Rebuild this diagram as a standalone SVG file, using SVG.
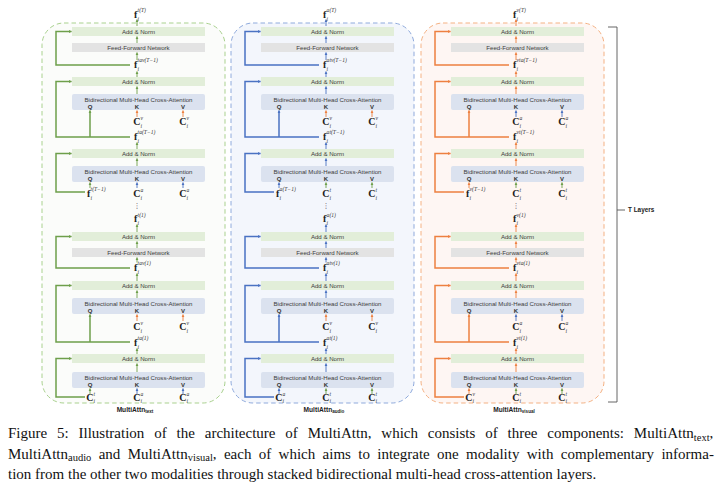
<svg xmlns="http://www.w3.org/2000/svg" width="728" height="489" viewBox="0 0 728 489">
<style>
.bg{fill:#ffffff}
.panel{stroke-width:1;stroke-dasharray:4.5 3}
.pg{fill:#fbfcfa;stroke:#a9d18e}
.pb{fill:#f3f6fc;stroke:#8faadc}
.po{fill:#fef6f3;stroke:#f4b183}
.an{fill:#e2eed9}
.ff{fill:#e3e3e3}
.ca{fill:#dbe2ef}
.bt{font-family:"Liberation Sans",Arial,sans-serif;font-size:6.1px;fill:#3c3c3c;text-anchor:middle}
.qkv{font-family:"Liberation Sans",Arial,sans-serif;font-size:6px;font-weight:bold;fill:#333;text-anchor:middle}
.fb{font-family:"Liberation Serif","Times New Roman",serif;font-size:10px;font-weight:bold;fill:#222}
.sc{font-family:"Liberation Serif","Times New Roman",serif;font-size:5.6px;font-style:italic;fill:#333}
.dots{font-family:"DejaVu Sans",sans-serif;font-size:7px;fill:#333;text-anchor:middle}
.m{fill:none;stroke-width:0.9}
.s{fill:none;stroke-width:1.5}
.cg{stroke:#6e9f4b}
.cb{stroke:#4a72c2}
.co{stroke:#ed8040}
.mg{marker-end:url(#ag)}
.mb{marker-end:url(#ab)}
.mo{marker-end:url(#ao)}
.lab{font-family:"Liberation Sans",Arial,sans-serif;font-size:6.6px;font-weight:bold;fill:#222;text-anchor:middle}
.cap{font-family:"Liberation Serif","Times New Roman",serif;font-size:15px;fill:#111}
</style>
<defs>
<marker id="ag" viewBox="0 0 6 6" refX="5.5" refY="3" markerWidth="3.2" markerHeight="3.2" orient="auto" markerUnits="userSpaceOnUse"><path d="M0,0L6,3L0,6z" fill="#6e9f4b"/></marker>
<marker id="ab" viewBox="0 0 6 6" refX="5.5" refY="3" markerWidth="3.2" markerHeight="3.2" orient="auto" markerUnits="userSpaceOnUse"><path d="M0,0L6,3L0,6z" fill="#4a72c2"/></marker>
<marker id="ao" viewBox="0 0 6 6" refX="5.5" refY="3" markerWidth="3.2" markerHeight="3.2" orient="auto" markerUnits="userSpaceOnUse"><path d="M0,0L6,3L0,6z" fill="#ed8040"/></marker>
</defs>
<rect class="bg" x="0" y="0" width="728" height="489"/>

<g id="panels">
<rect id="panel-text" class="panel pg" x="42" y="23" width="183" height="380" rx="22"/>
<rect id="panel-audio" class="panel pb" x="231" y="23" width="183" height="380" rx="22"/>
<rect id="panel-visual" class="panel po" x="421" y="23" width="183" height="380" rx="22"/>
</g>

<g id="connectors">
<g id="conn-text" transform="translate(42,0)">
<g class="m cg mg"><path d="M95,26V19.5"/><path d="M95,43V36.5"/><path d="M95,60V52.5"/><path d="M95,77V71.5"/><path d="M95,94V86.5"/><path d="M95,149V142.5"/><path d="M95,166V158.5"/><path d="M95,232V224.5"/><path d="M95,248V241.5"/><path d="M95,262.5V257.5"/><path d="M95,281V273.5"/><path d="M95,298V290.5"/><path d="M95,354V348.5"/><path d="M95,372V363.5"/><path d="M48,188V182.5"/><path d="M48,394V388.5"/></g>
<g class="m co mo"><path d="M95,117V110.5"/><path d="M141,117V110.5"/><path d="M95,321V314.5"/><path d="M141,321V314.5"/></g>
<g class="m cb mb"><path d="M95,188V182.5"/><path d="M141,188V182.5"/><path d="M95,394V388.5"/><path d="M141,394V388.5"/></g>
<g class="s cg mg"><path d="M88,65H14V31.5H29.5"/><path d="M88,137H14V81.5H29.5"/><path d="M48,137V110.5"/><path d="M43,192H14V153.5H29.5"/><path d="M88,268H14V236.5H29.5"/><path d="M88,342H14V285.5H29.5"/><path d="M48,342V314.5"/><path d="M43,397H14V358.5H29.5"/></g>
</g>
<g id="conn-audio" transform="translate(231,0)">
<g class="m cb mb"><path d="M95,26V19.5"/><path d="M95,43V36.5"/><path d="M95,60V52.5"/><path d="M95,77V71.5"/><path d="M95,94V86.5"/><path d="M95,149V142.5"/><path d="M95,166V158.5"/><path d="M95,232V224.5"/><path d="M95,248V241.5"/><path d="M95,262.5V257.5"/><path d="M95,281V273.5"/><path d="M95,298V290.5"/><path d="M95,354V348.5"/><path d="M95,372V363.5"/><path d="M48,188V182.5"/><path d="M48,394V388.5"/></g>
<g class="m co mo"><path d="M95,117V110.5"/><path d="M141,117V110.5"/><path d="M95,321V314.5"/><path d="M141,321V314.5"/></g>
<g class="m cg mg"><path d="M95,188V182.5"/><path d="M141,188V182.5"/><path d="M95,394V388.5"/><path d="M141,394V388.5"/></g>
<g class="s cb mb"><path d="M88,65H14V31.5H29.5"/><path d="M88,137H14V81.5H29.5"/><path d="M48,137V110.5"/><path d="M43,192H14V153.5H29.5"/><path d="M88,268H14V236.5H29.5"/><path d="M88,342H14V285.5H29.5"/><path d="M48,342V314.5"/><path d="M43,397H14V358.5H29.5"/></g>
</g>
<g id="conn-visual" transform="translate(421,0)">
<g class="m co mo"><path d="M95,26V19.5"/><path d="M95,43V36.5"/><path d="M95,60V52.5"/><path d="M95,77V71.5"/><path d="M95,94V86.5"/><path d="M95,149V142.5"/><path d="M95,166V158.5"/><path d="M95,232V224.5"/><path d="M95,248V241.5"/><path d="M95,262.5V257.5"/><path d="M95,281V273.5"/><path d="M95,298V290.5"/><path d="M95,354V348.5"/><path d="M95,372V363.5"/><path d="M48,188V182.5"/><path d="M48,394V388.5"/></g>
<g class="m cb mb"><path d="M95,117V110.5"/><path d="M141,117V110.5"/><path d="M95,321V314.5"/><path d="M141,321V314.5"/></g>
<g class="m cg mg"><path d="M95,188V182.5"/><path d="M141,188V182.5"/><path d="M95,394V388.5"/><path d="M141,394V388.5"/></g>
<g class="s co mo"><path d="M88,65H14V31.5H29.5"/><path d="M88,137H14V81.5H29.5"/><path d="M48,137V110.5"/><path d="M43,192H14V153.5H29.5"/><path d="M88,268H14V236.5H29.5"/><path d="M88,342H14V285.5H29.5"/><path d="M48,342V314.5"/><path d="M43,397H14V358.5H29.5"/></g>
</g>
<g id="t-layers-bracket" fill="none" stroke="#555" stroke-width="0.9"><path d="M608,27H617V402H608"/><path d="M617,210H625"/></g>
</g>

<!-- TEXT column -->
<g id="col-text" transform="translate(42,0)">
<g id="t-an1"><rect class="an" x="30" y="27" width="133" height="9"/><text class="bt" x="96.5" y="33.6">Add &amp; Norm</text></g>
<g id="t-ffn1"><rect class="ff" x="30" y="43" width="133" height="9"/><text class="bt" x="96.5" y="49.6">Feed-Forward Network</text></g>
<g id="t-an2"><rect class="an" x="30" y="77" width="133" height="9"/><text class="bt" x="96.5" y="83.6">Add &amp; Norm</text></g>
<g id="t-ca1"><rect class="ca" x="30" y="94" width="133" height="16" rx="2"/><text class="bt" x="96.5" y="101.5">Bidirectional Multi-Head Cross-Attention</text><text class="qkv" x="48" y="108.6">Q</text><text class="qkv" x="95" y="108.6">K</text><text class="qkv" x="141" y="108.6">V</text></g>
<g id="t-an3"><rect class="an" x="30" y="149" width="133" height="9"/><text class="bt" x="96.5" y="155.6">Add &amp; Norm</text></g>
<g id="t-ca2"><rect class="ca" x="30" y="166" width="133" height="16" rx="2"/><text class="bt" x="96.5" y="173.5">Bidirectional Multi-Head Cross-Attention</text><text class="qkv" x="48" y="180.6">Q</text><text class="qkv" x="95" y="180.6">K</text><text class="qkv" x="141" y="180.6">V</text></g>
<g id="t-an4"><rect class="an" x="30" y="232" width="133" height="9"/><text class="bt" x="96.5" y="238.6">Add &amp; Norm</text></g>
<g id="t-ffn2"><rect class="ff" x="30" y="248" width="133" height="9"/><text class="bt" x="96.5" y="254.6">Feed-Forward Network</text></g>
<g id="t-an5"><rect class="an" x="30" y="281" width="133" height="9"/><text class="bt" x="96.5" y="287.6">Add &amp; Norm</text></g>
<g id="t-ca3"><rect class="ca" x="30" y="298" width="133" height="16" rx="2"/><text class="bt" x="96.5" y="305.5">Bidirectional Multi-Head Cross-Attention</text><text class="qkv" x="48" y="312.6">Q</text><text class="qkv" x="95" y="312.6">K</text><text class="qkv" x="141" y="312.6">V</text></g>
<g id="t-an6"><rect class="an" x="30" y="354" width="133" height="9"/><text class="bt" x="96.5" y="360.6">Add &amp; Norm</text></g>
<g id="t-ca4"><rect class="ca" x="30" y="372" width="133" height="16" rx="2"/><text class="bt" x="96.5" y="379.5">Bidirectional Multi-Head Cross-Attention</text><text class="qkv" x="48" y="386.6">Q</text><text class="qkv" x="95" y="386.6">K</text><text class="qkv" x="141" y="386.6">V</text></g>
<g id="t-fT"><text class="fb" x="92" y="18">f</text><text class="sc" x="95.6" y="12">t(T)</text><text class="sc" x="95.6" y="20.5">i</text></g>
<g id="t-ftavT1"><text class="fb" x="92" y="68">f</text><text class="sc" x="95.6" y="62">tav(T−1)</text><text class="sc" x="95.6" y="70.5">i</text></g>
<g id="t-cK1"><text class="fb" x="91.3" y="125">C</text><text class="sc" x="98.4" y="119.5">v</text><text class="sc" x="98.4" y="127.5">i</text></g>
<g id="t-cV1"><text class="fb" x="137.3" y="125">C</text><text class="sc" x="144.4" y="119.5">v</text><text class="sc" x="144.4" y="127.5">i</text></g>
<g id="t-ftaT1"><text class="fb" x="92" y="140">f</text><text class="sc" x="95.6" y="134">ta(T−1)</text><text class="sc" x="95.6" y="142.5">i</text></g>
<g id="t-ftT1"><text class="fb" x="45" y="197">f</text><text class="sc" x="48.6" y="191">t(T−1)</text><text class="sc" x="48.6" y="199.5">i</text></g>
<g id="t-cK2"><text class="fb" x="91.3" y="197">C</text><text class="sc" x="98.4" y="191.5">a</text><text class="sc" x="98.4" y="199.5">i</text></g>
<g id="t-cV2"><text class="fb" x="137.3" y="197">C</text><text class="sc" x="144.4" y="191.5">a</text><text class="sc" x="144.4" y="199.5">i</text></g>
<text class="dots" x="95" y="208">⋮</text>
<g id="t-f1"><text class="fb" x="92" y="222">f</text><text class="sc" x="95.6" y="216.5">t(1)</text><text class="sc" x="95.6" y="224.5">i</text></g>
<g id="t-ftav1"><text class="fb" x="92" y="271">f</text><text class="sc" x="95.6" y="265">tav(1)</text><text class="sc" x="95.6" y="273.5">i</text></g>
<g id="t-cK3"><text class="fb" x="91.3" y="330">C</text><text class="sc" x="98.4" y="324.5">v</text><text class="sc" x="98.4" y="332.5">i</text></g>
<g id="t-cV3"><text class="fb" x="137.3" y="330">C</text><text class="sc" x="144.4" y="324.5">v</text><text class="sc" x="144.4" y="332.5">i</text></g>
<g id="t-fta1"><text class="fb" x="92" y="346">f</text><text class="sc" x="95.6" y="340">ta(1)</text><text class="sc" x="95.6" y="348.5">i</text></g>
<g id="t-cQ4"><text class="fb" x="44.3" y="401">C</text><text class="sc" x="51.4" y="395.5">t</text><text class="sc" x="51.4" y="403">i</text></g>
<g id="t-cK4"><text class="fb" x="91.3" y="401">C</text><text class="sc" x="98.4" y="395.5">a</text><text class="sc" x="98.4" y="403">i</text></g>
<g id="t-cV4"><text class="fb" x="137.3" y="401">C</text><text class="sc" x="144.4" y="395.5">a</text><text class="sc" x="144.4" y="403">i</text></g>
<text id="t-label" class="lab" x="93" y="411.5">MultiAttn<tspan font-size="4.6" dy="1.6">text</tspan></text>
</g>

<!-- AUDIO column -->
<g id="col-audio" transform="translate(231,0)">
<g id="a-an1"><rect class="an" x="30" y="27" width="133" height="9"/><text class="bt" x="96.5" y="33.6">Add &amp; Norm</text></g>
<g id="a-ffn1"><rect class="ff" x="30" y="43" width="133" height="9"/><text class="bt" x="96.5" y="49.6">Feed-Forward Network</text></g>
<g id="a-an2"><rect class="an" x="30" y="77" width="133" height="9"/><text class="bt" x="96.5" y="83.6">Add &amp; Norm</text></g>
<g id="a-ca1"><rect class="ca" x="30" y="94" width="133" height="16" rx="2"/><text class="bt" x="96.5" y="101.5">Bidirectional Multi-Head Cross-Attention</text><text class="qkv" x="48" y="108.6">Q</text><text class="qkv" x="95" y="108.6">K</text><text class="qkv" x="141" y="108.6">V</text></g>
<g id="a-an3"><rect class="an" x="30" y="149" width="133" height="9"/><text class="bt" x="96.5" y="155.6">Add &amp; Norm</text></g>
<g id="a-ca2"><rect class="ca" x="30" y="166" width="133" height="16" rx="2"/><text class="bt" x="96.5" y="173.5">Bidirectional Multi-Head Cross-Attention</text><text class="qkv" x="48" y="180.6">Q</text><text class="qkv" x="95" y="180.6">K</text><text class="qkv" x="141" y="180.6">V</text></g>
<g id="a-an4"><rect class="an" x="30" y="232" width="133" height="9"/><text class="bt" x="96.5" y="238.6">Add &amp; Norm</text></g>
<g id="a-ffn2"><rect class="ff" x="30" y="248" width="133" height="9"/><text class="bt" x="96.5" y="254.6">Feed-Forward Network</text></g>
<g id="a-an5"><rect class="an" x="30" y="281" width="133" height="9"/><text class="bt" x="96.5" y="287.6">Add &amp; Norm</text></g>
<g id="a-ca3"><rect class="ca" x="30" y="298" width="133" height="16" rx="2"/><text class="bt" x="96.5" y="305.5">Bidirectional Multi-Head Cross-Attention</text><text class="qkv" x="48" y="312.6">Q</text><text class="qkv" x="95" y="312.6">K</text><text class="qkv" x="141" y="312.6">V</text></g>
<g id="a-an6"><rect class="an" x="30" y="354" width="133" height="9"/><text class="bt" x="96.5" y="360.6">Add &amp; Norm</text></g>
<g id="a-ca4"><rect class="ca" x="30" y="372" width="133" height="16" rx="2"/><text class="bt" x="96.5" y="379.5">Bidirectional Multi-Head Cross-Attention</text><text class="qkv" x="48" y="386.6">Q</text><text class="qkv" x="95" y="386.6">K</text><text class="qkv" x="141" y="386.6">V</text></g>
<g id="a-fT"><text class="fb" x="92" y="18">f</text><text class="sc" x="95.6" y="12">a(T)</text><text class="sc" x="95.6" y="20.5">i</text></g>
<g id="a-fatvT1"><text class="fb" x="92" y="68">f</text><text class="sc" x="95.6" y="62">atv(T−1)</text><text class="sc" x="95.6" y="70.5">i</text></g>
<g id="a-cK1"><text class="fb" x="91.3" y="125">C</text><text class="sc" x="98.4" y="119.5">v</text><text class="sc" x="98.4" y="127.5">i</text></g>
<g id="a-cV1"><text class="fb" x="137.3" y="125">C</text><text class="sc" x="144.4" y="119.5">v</text><text class="sc" x="144.4" y="127.5">i</text></g>
<g id="a-fatT1"><text class="fb" x="92" y="140">f</text><text class="sc" x="95.6" y="134">at(T−1)</text><text class="sc" x="95.6" y="142.5">i</text></g>
<g id="a-faT1"><text class="fb" x="45" y="197">f</text><text class="sc" x="48.6" y="191">a(T−1)</text><text class="sc" x="48.6" y="199.5">i</text></g>
<g id="a-cK2"><text class="fb" x="91.3" y="197">C</text><text class="sc" x="98.4" y="191.5">t</text><text class="sc" x="98.4" y="199.5">i</text></g>
<g id="a-cV2"><text class="fb" x="137.3" y="197">C</text><text class="sc" x="144.4" y="191.5">t</text><text class="sc" x="144.4" y="199.5">i</text></g>
<text class="dots" x="95" y="208">⋮</text>
<g id="a-f1"><text class="fb" x="92" y="222">f</text><text class="sc" x="95.6" y="216.5">a(1)</text><text class="sc" x="95.6" y="224.5">i</text></g>
<g id="a-fatv1"><text class="fb" x="92" y="271">f</text><text class="sc" x="95.6" y="265">atv(1)</text><text class="sc" x="95.6" y="273.5">i</text></g>
<g id="a-cK3"><text class="fb" x="91.3" y="330">C</text><text class="sc" x="98.4" y="324.5">v</text><text class="sc" x="98.4" y="332.5">i</text></g>
<g id="a-cV3"><text class="fb" x="137.3" y="330">C</text><text class="sc" x="144.4" y="324.5">v</text><text class="sc" x="144.4" y="332.5">i</text></g>
<g id="a-fat1"><text class="fb" x="92" y="346">f</text><text class="sc" x="95.6" y="340">at(1)</text><text class="sc" x="95.6" y="348.5">i</text></g>
<g id="a-cQ4"><text class="fb" x="44.3" y="401">C</text><text class="sc" x="51.4" y="395.5">a</text><text class="sc" x="51.4" y="403">i</text></g>
<g id="a-cK4"><text class="fb" x="91.3" y="401">C</text><text class="sc" x="98.4" y="395.5">t</text><text class="sc" x="98.4" y="403">i</text></g>
<g id="a-cV4"><text class="fb" x="137.3" y="401">C</text><text class="sc" x="144.4" y="395.5">t</text><text class="sc" x="144.4" y="403">i</text></g>
<text id="a-label" class="lab" x="93" y="411.5">MultiAttn<tspan font-size="4.6" dy="1.6">audio</tspan></text>
</g>

<!-- VISUAL column -->
<g id="col-visual" transform="translate(421,0)">
<g id="v-an1"><rect class="an" x="30" y="27" width="133" height="9"/><text class="bt" x="96.5" y="33.6">Add &amp; Norm</text></g>
<g id="v-ffn1"><rect class="ff" x="30" y="43" width="133" height="9"/><text class="bt" x="96.5" y="49.6">Feed-Forward Network</text></g>
<g id="v-an2"><rect class="an" x="30" y="77" width="133" height="9"/><text class="bt" x="96.5" y="83.6">Add &amp; Norm</text></g>
<g id="v-ca1"><rect class="ca" x="30" y="94" width="133" height="16" rx="2"/><text class="bt" x="96.5" y="101.5">Bidirectional Multi-Head Cross-Attention</text><text class="qkv" x="48" y="108.6">Q</text><text class="qkv" x="95" y="108.6">K</text><text class="qkv" x="141" y="108.6">V</text></g>
<g id="v-an3"><rect class="an" x="30" y="149" width="133" height="9"/><text class="bt" x="96.5" y="155.6">Add &amp; Norm</text></g>
<g id="v-ca2"><rect class="ca" x="30" y="166" width="133" height="16" rx="2"/><text class="bt" x="96.5" y="173.5">Bidirectional Multi-Head Cross-Attention</text><text class="qkv" x="48" y="180.6">Q</text><text class="qkv" x="95" y="180.6">K</text><text class="qkv" x="141" y="180.6">V</text></g>
<g id="v-an4"><rect class="an" x="30" y="232" width="133" height="9"/><text class="bt" x="96.5" y="238.6">Add &amp; Norm</text></g>
<g id="v-ffn2"><rect class="ff" x="30" y="248" width="133" height="9"/><text class="bt" x="96.5" y="254.6">Feed-Forward Network</text></g>
<g id="v-an5"><rect class="an" x="30" y="281" width="133" height="9"/><text class="bt" x="96.5" y="287.6">Add &amp; Norm</text></g>
<g id="v-ca3"><rect class="ca" x="30" y="298" width="133" height="16" rx="2"/><text class="bt" x="96.5" y="305.5">Bidirectional Multi-Head Cross-Attention</text><text class="qkv" x="48" y="312.6">Q</text><text class="qkv" x="95" y="312.6">K</text><text class="qkv" x="141" y="312.6">V</text></g>
<g id="v-an6"><rect class="an" x="30" y="354" width="133" height="9"/><text class="bt" x="96.5" y="360.6">Add &amp; Norm</text></g>
<g id="v-ca4"><rect class="ca" x="30" y="372" width="133" height="16" rx="2"/><text class="bt" x="96.5" y="379.5">Bidirectional Multi-Head Cross-Attention</text><text class="qkv" x="48" y="386.6">Q</text><text class="qkv" x="95" y="386.6">K</text><text class="qkv" x="141" y="386.6">V</text></g>
<g id="v-fT"><text class="fb" x="92" y="18">f</text><text class="sc" x="95.6" y="12">v(T)</text><text class="sc" x="95.6" y="20.5">i</text></g>
<g id="v-fvtaT1"><text class="fb" x="92" y="68">f</text><text class="sc" x="95.6" y="62">vta(T−1)</text><text class="sc" x="95.6" y="70.5">i</text></g>
<g id="v-cK1"><text class="fb" x="91.3" y="125">C</text><text class="sc" x="98.4" y="119.5">a</text><text class="sc" x="98.4" y="127.5">i</text></g>
<g id="v-cV1"><text class="fb" x="137.3" y="125">C</text><text class="sc" x="144.4" y="119.5">a</text><text class="sc" x="144.4" y="127.5">i</text></g>
<g id="v-fvtT1"><text class="fb" x="92" y="140">f</text><text class="sc" x="95.6" y="134">vt(T−1)</text><text class="sc" x="95.6" y="142.5">i</text></g>
<g id="v-fvT1"><text class="fb" x="45" y="197">f</text><text class="sc" x="48.6" y="191">v(T−1)</text><text class="sc" x="48.6" y="199.5">i</text></g>
<g id="v-cK2"><text class="fb" x="91.3" y="197">C</text><text class="sc" x="98.4" y="191.5">t</text><text class="sc" x="98.4" y="199.5">i</text></g>
<g id="v-cV2"><text class="fb" x="137.3" y="197">C</text><text class="sc" x="144.4" y="191.5">t</text><text class="sc" x="144.4" y="199.5">i</text></g>
<text class="dots" x="95" y="208">⋮</text>
<g id="v-f1"><text class="fb" x="92" y="222">f</text><text class="sc" x="95.6" y="216.5">v(1)</text><text class="sc" x="95.6" y="224.5">i</text></g>
<g id="v-fvta1"><text class="fb" x="92" y="271">f</text><text class="sc" x="95.6" y="265">vta(1)</text><text class="sc" x="95.6" y="273.5">i</text></g>
<g id="v-cK3"><text class="fb" x="91.3" y="330">C</text><text class="sc" x="98.4" y="324.5">a</text><text class="sc" x="98.4" y="332.5">i</text></g>
<g id="v-cV3"><text class="fb" x="137.3" y="330">C</text><text class="sc" x="144.4" y="324.5">a</text><text class="sc" x="144.4" y="332.5">i</text></g>
<g id="v-fvt1"><text class="fb" x="92" y="346">f</text><text class="sc" x="95.6" y="340">vt(1)</text><text class="sc" x="95.6" y="348.5">i</text></g>
<g id="v-cQ4"><text class="fb" x="44.3" y="401">C</text><text class="sc" x="51.4" y="395.5">v</text><text class="sc" x="51.4" y="403">i</text></g>
<g id="v-cK4"><text class="fb" x="91.3" y="401">C</text><text class="sc" x="98.4" y="395.5">t</text><text class="sc" x="98.4" y="403">i</text></g>
<g id="v-cV4"><text class="fb" x="137.3" y="401">C</text><text class="sc" x="144.4" y="395.5">t</text><text class="sc" x="144.4" y="403">i</text></g>
<text id="v-label" class="lab" x="93" y="411.5">MultiAttn<tspan font-size="4.6" dy="1.6">visual</tspan></text>
</g>

<g id="t-layers"><text class="lab" x="628" y="212.2" style="text-anchor:start;font-size:6.4px">T Layers</text></g>

<g id="caption">
<text class="cap" x="8" y="438" word-spacing="6.1">Figure 5: Illustration of the architecture of MultiAttn, which consists of three components: MultiAttn<tspan font-size="10.5" dy="2.8">text</tspan><tspan dy="-2.8">,</tspan></text>
<text class="cap" x="8" y="458.5" word-spacing="3.6">MultiAttn<tspan font-size="10.5" dy="2.8">audio</tspan><tspan dy="-2.8"> and MultiAttn</tspan><tspan font-size="10.5" dy="2.8">visual</tspan><tspan dy="-2.8">, each of which aims to integrate one modality with complementary informa-</tspan></text>
<text class="cap" x="8" y="479">tion from the other two modalities through stacked bidirectional multi-head cross-attention layers.</text>
</g>
</svg>
